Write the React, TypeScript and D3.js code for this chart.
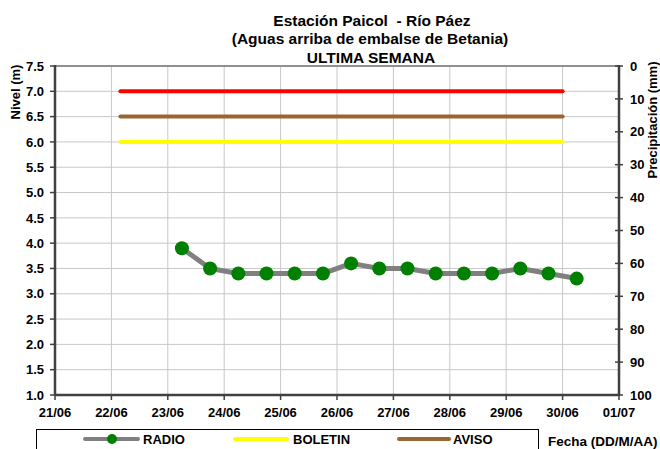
import React from "react";
import * as d3 from "d3";

const xTickLabels = ["21/06","22/06","23/06","24/06","25/06","26/06","27/06","28/06","29/06","30/06","01/07"];
// radio readings: every 12 h starting 23/06 06:00 (day offset from 21/06 00:00)
const radioDays = [2.25,2.75,3.25,3.75,4.25,4.75,5.25,5.75,6.25,6.75,7.25,7.75,8.25,8.75,9.25];
const radioValues = [3.9,3.5,3.4,3.4,3.4,3.4,3.6,3.5,3.5,3.4,3.4,3.4,3.5,3.4,3.3];
const thresholdStart = 1.16;
const thresholdEnd = 9.0;
const thresholdNames = ["ALERTA","AVISO","BOLETIN"];
const thresholdValues = [7.0,6.5,6.0];
const thresholdColors = ["#FF0000","#996633","#FFFF00"];
const yTicks = [1.0,1.5,2.0,2.5,3.0,3.5,4.0,4.5,5.0,5.5,6.0,6.5,7.0,7.5];
const y2Ticks = [0,10,20,30,40,50,60,70,80,90,100];

const W = 660, H = 449;
const left = 55, right = 619, top = 66, bottom = 395;
const font = "'Liberation Sans', Arial, sans-serif";

export default function App() {
  const x = d3.scaleLinear().domain([0, 10]).range([left, right]);
  const y = d3.scaleLinear().domain([1, 7.5]).range([bottom, top]);
  const y2 = d3.scaleLinear().domain([0, 100]).range([top, bottom]);
  const line = d3.line<number>().x((_, i) => x(radioDays[i])).y((d) => y(d));
  const axisColor = "#404040";
  return (
    <svg width={W} height={H} style={{ position: "absolute", left: 0, top: 0, background: "#fff" }} fontFamily={font}>
      <rect x={0} y={0} width={W} height={H} fill="#fff" />
      {/* title */}
      <g fontWeight="bold" fontSize={15.5} textAnchor="middle" fill="#000">
        <text x={372} y={25.5}>{"Estación Paicol\u00A0 - Río Páez"}</text>
        <text x={370} y={44}>(Aguas arriba de embalse de Betania)</text>
        <text x={371} y={62.5}>ULTIMA SEMANA</text>
      </g>
      {/* grid */}
      <g stroke="#c8c8c8" strokeWidth={1}>
        {yTicks.map((t) => (
          <line key={"h" + t} x1={left} x2={right} y1={y(t)} y2={y(t)} />
        ))}
        {xTickLabels.map((_, i) => (
          <line key={"v" + i} x1={x(i)} x2={x(i)} y1={top} y2={bottom} />
        ))}
      </g>
      <line x1={left} x2={right} y1={top} y2={top} stroke="#909090" strokeWidth={2} />
      {/* thresholds */}
      {thresholdValues.map((v, i) => (
        <line key={thresholdNames[i]} x1={x(thresholdStart)} x2={x(thresholdEnd)} y1={y(v)} y2={y(v)}
          stroke={thresholdColors[i]} strokeWidth={4} strokeLinecap="round" />
      ))}
      {/* radio series */}
      <path d={line(radioValues) || ""} fill="none" stroke="#808080" strokeWidth={5} strokeLinejoin="round" />
      {radioValues.map((v, i) => (
        <circle key={i} cx={x(radioDays[i])} cy={y(v)} r={7} fill="#008000" />
      ))}
      {/* axes */}
      <g stroke={axisColor}>
        <line x1={left} x2={left} y1={top - 1} y2={bottom + 1} strokeWidth={2.5} />
        <line x1={right} x2={right} y1={top - 1} y2={bottom + 1} strokeWidth={2.5} />
        <line x1={left} x2={right} y1={bottom} y2={bottom} strokeWidth={2.5} />
        {yTicks.map((t) => (
          <line key={"yt" + t} x1={left - 5} x2={left} y1={y(t)} y2={y(t)} strokeWidth={1.5} />
        ))}
        {y2Ticks.map((t) => (
          <line key={"y2t" + t} x1={right - 4} x2={right + 4} y1={y2(t)} y2={y2(t)} strokeWidth={1.5} />
        ))}
        {xTickLabels.map((_, i) => (
          <line key={"xt" + i} x1={x(i)} x2={x(i)} y1={bottom} y2={bottom + 5} strokeWidth={1.5} />
        ))}
      </g>
      <g fontWeight="bold" fontSize={13} fill="#000">
        {yTicks.map((t) => (
          <text key={"yl" + t} x={44} y={y(t)} dy="0.36em" textAnchor="end">{t.toFixed(1)}</text>
        ))}
        {y2Ticks.map((t) => (
          <text key={"y2l" + t} x={630} y={y2(t)} dy="0.36em" textAnchor="start">{t}</text>
        ))}
        {xTickLabels.map((l, i) => (
          <text key={"xl" + i} x={x(i)} y={417} textAnchor="middle">{l}</text>
        ))}
        <text transform="translate(20,92) rotate(-90)" textAnchor="middle">Nivel (m)</text>
        <text transform="translate(657,120) rotate(-90)" textAnchor="middle">Precipitación (mm)</text>
      </g>
      {/* legend */}
      <rect x={36.5} y={429.5} width={502} height={22} fill="#fff" stroke="#000" strokeWidth={1} />
      <g fontWeight="bold" fontSize={13} fill="#000">
        <line x1={85} x2={138} y1={439} y2={439} stroke="#808080" strokeWidth={4} strokeLinecap="round" />
        <circle cx={112} cy={439} r={5} fill="#008000" />
        <text x={143} y={443.5}>RADIO</text>
        <line x1={235} x2={287} y1={439} y2={439} stroke="#FFFF00" strokeWidth={4} strokeLinecap="round" />
        <text x={293} y={443.5}>BOLETIN</text>
        <line x1={399} x2={449} y1={439} y2={439} stroke="#996633" strokeWidth={4} strokeLinecap="round" />
        <text x={453} y={443.5}>AVISO</text>
        <text x={548} y={446} fontSize={13.5}>Fecha (DD/M/AA)</text>
      </g>
    </svg>
  );
}
